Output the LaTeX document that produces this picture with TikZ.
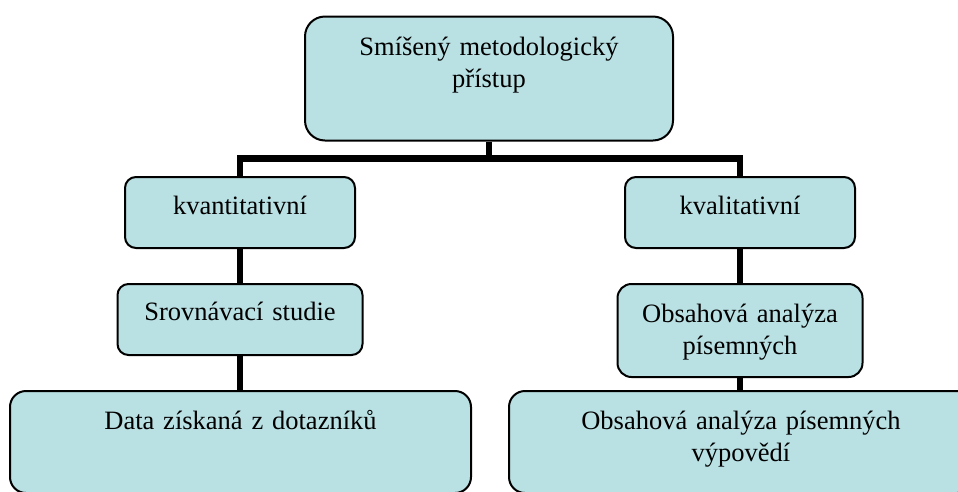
\documentclass[tikz,border=0pt]{standalone}
\usepackage{fontspec}
\setmainfont{Liberation Serif}
\usepackage{xcolor}
\usepackage{tikz}
\usetikzlibrary{positioning}
\definecolor{boxfill}{RGB}{185,224,227}

\begin{document}
\begin{tikzpicture}[x=1pt, y=-1pt]
\tikzstyle{block} = [rectangle, anchor=north, draw=black, line width=2pt, fill=boxfill, inner sep=0pt, align=center, font=\fontsize{26.5}{32}\selectfont]
\tikzstyle{line} = [line width=6.5pt, line join=miter]

\useasboundingbox (0,0) rectangle (958,491);
\clip (0,0) rectangle (958,491);

\node (mixed) [block, rounded corners=20pt, text width=368pt, text height=39pt, text depth=85pt] at (489,15.5) {Smíšený metodologický\\přístup};
\node (quant) [block, rounded corners=11pt, text width=230pt, text height=37pt, text depth=34pt] at (240,176) {kvantitativní};
\node (qual) [block, rounded corners=11pt, text width=230pt, text height=37pt, text depth=34pt] at (740,176) {kvalitativní};
\node (compare) [block, rounded corners=11pt, text width=245pt, text height=36pt, text depth=35pt] at (240,283) {Srovnávací studie};
\node (content) [block, rounded corners=14pt, text width=245pt, text height=38pt, text depth=55pt] at (740,283) {Obsahová analýza\\písemných};
\node (survey) [block, rounded corners=16pt, text width=461pt, text height=38pt, text depth=64pt] at (240.5,390) {Data získaná z dotazníků};
\node (answers) [block, rounded corners=16pt, text width=464pt, text height=38pt, text depth=64pt] at (741,390) {Obsahová analýza písemných\\výpovědí};

\coordinate (bar) at (0,158.5);

\draw [line] (mixed.south) -- (mixed.south |- bar);
\draw [line] (quant.north) -- (quant.north |- bar) -- (qual.north |- bar) -- (qual.north);
\draw [line] (quant.south) -- (compare.north);
\draw [line] (compare.south) -- (compare.south |- survey.north);
\draw [line] (qual.south) -- (content.north);
\draw [line] (content.south) -- (content.south |- answers.north);
\end{tikzpicture}
\end{document}
